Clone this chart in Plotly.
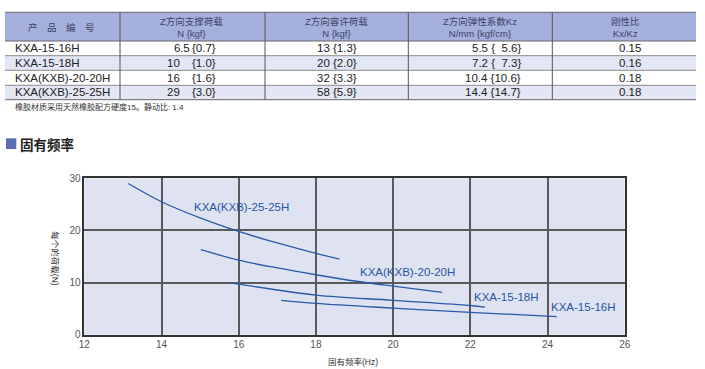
import plotly.graph_objects as go

# ---------------- data ----------------
products = ["KXA-15-16H", "KXA-15-18H", "KXA(KXB)-20-20H", "KXA(KXB)-25-25H"]
support_N = ["6.5", "10", "16", "29"]
support_kgf = ["0.7", "1.0", "1.6", "3.0"]
allow_N = ["13", "20", "32", "58"]
allow_kgf = ["1.3", "2.0", "3.3", "5.9"]
kz_N = ["5.5", "7.2", "10.4", "14.4"]
kz_kgf = ["5.6", "7.3", "10.6", "14.7"]
ratio = ["0.15", "0.16", "0.18", "0.18"]
headers = ["产　品　编　号", "Z方向支撑荷载<br>N {kgf}", "Z方向容许荷载<br>N {kgf}",
           "Z方向弹性系数Kz<br>N/mm {kgf/cm}", "刚性比<br>Kx/Kz"]
note = "橡胶材质采用天然橡胶配方硬度15。静动比: 1.4"
section_title = "固有频率"

# curves: natural frequency (Hz) vs load per unit (N)
f_25 = [13.14, 14.0, 15.0, 16.0, 17.0, 18.0, 18.61]
L_25 = [29.0, 25.5, 22.4, 19.8, 17.6, 15.6, 14.5]
f_20 = [15.02, 16.0, 17.0, 18.0, 19.0, 20.0, 21.27]
L_20 = [16.3, 14.3, 12.8, 11.5, 10.3, 9.3, 8.1]
f_18 = [15.82, 16.0, 18.0, 20.0, 22.0, 22.38]
L_18 = [9.9, 9.7, 7.6, 6.6, 5.6, 5.3]
f_16 = [17.1, 18.0, 20.0, 22.0, 24.24]
L_16 = [6.6, 6.0, 5.1, 4.3, 3.45]
curve_names = ["KXA(KXB)-25-25H", "KXA(KXB)-20-20H", "KXA-15-18H", "KXA-15-16H"]
label_pos = [(16.08, 24.45), (20.37, 12.0), (22.95, 7.3), (24.94, 5.37)]

x_ticks = [12, 14, 16, 18, 20, 22, 24, 26]
y_ticks = [0, 10, 20, 30]
x_title = "固有频率(Hz)"
y_title = "每个的荷载(N)"

# ---------------- layout helpers ----------------
W, H = 705, 369
def px(x):
    return x / W
def py(y):
    return 1 - y / H

FONT = "Liberation Sans, Arial, Noto Sans CJK SC, sans-serif"
CURVE = "#2a5aa8"
LABEL = "#1f55a5"

fig = go.Figure()
for xs, ys, nm in zip([f_25, f_20, f_18, f_16], [L_25, L_20, L_18, L_16], curve_names):
    fig.add_trace(go.Scatter(x=xs, y=ys, mode="lines", name=nm,
                             line=dict(color=CURVE, width=1.3, shape="spline", smoothing=1.0),
                             showlegend=False, hoverinfo="skip"))

annotations = []
shapes = []

def note_at(x, y, text, font, xanchor="center", yanchor="middle", **kw):
    annotations.append(dict(x=px(x), y=py(y), xref="paper", yref="paper", text=text,
                            showarrow=False, xanchor=xanchor, yanchor=yanchor, font=font,
                            borderpad=0, borderwidth=0, **kw))

for nm, (lx, ly) in zip(curve_names, label_pos):
    annotations.append(dict(x=lx, y=ly, xref="x", yref="y", text=nm, showarrow=False,
                            xanchor="center", yanchor="middle", borderpad=0, borderwidth=0,
                            font=dict(family=FONT, size=11.5, color=LABEL)))

# ---------------- table ----------------
tbl_left, tbl_right = 5, 696
col_edges = [tbl_left, 120, 265, 408.3, 552.3, tbl_right]
row_edges = [12.3, 41, 55.7, 70.3, 85.3, 99.7]

shapes.append(dict(type="rect", xref="paper", yref="paper", x0=px(tbl_left), x1=px(tbl_right),
                   y0=py(row_edges[1]), y1=py(row_edges[0]), fillcolor="#a6b0dc", line=dict(width=0),
                   layer="below"))
for i in range(4):
    fill = "#ffffff" if i % 2 == 0 else "#e3e6f4"
    shapes.append(dict(type="rect", xref="paper", yref="paper", x0=px(tbl_left), x1=px(tbl_right),
                       y0=py(row_edges[i + 2]), y1=py(row_edges[i + 1]), fillcolor=fill,
                       line=dict(width=0), layer="below"))
for j, ry in enumerate(row_edges):
    col = "#666" if j in (0, 1, 5) else "#8a8a8a"
    shapes.append(dict(type="line", xref="paper", yref="paper", x0=px(tbl_left), x1=px(tbl_right),
                       y0=py(ry), y1=py(ry), line=dict(color=col, width=1)))
for cx in col_edges[1:-1]:
    shapes.append(dict(type="line", xref="paper", yref="paper", x0=px(cx), x1=px(cx),
                       y0=py(row_edges[0]), y1=py(row_edges[-1]), line=dict(color="#555", width=1)))

hdr_centers = [61.7, 191.5, 336.7, 480, 625]
HDR = dict(family=FONT, size=9.5, color="#3a4466")
for hx, ht in zip(hdr_centers, headers):
    note_at(hx, 27.2, ht, HDR, align="center")

TXT = dict(family=FONT, size=11.5, color="#222")
for i in range(4):
    cy = (row_edges[i + 1] + row_edges[i + 2]) / 2
    note_at(15, cy, products[i], TXT, xanchor="left")
    ip, _, fp = support_N[i].partition(".")
    note_at(180, cy, ip, TXT, xanchor="right")
    if fp:
        note_at(180, cy, "." + fp, TXT, xanchor="left")
    note_at(192, cy, "{" + support_kgf[i] + "}", TXT, xanchor="left")
    note_at(336.7, cy, f"{allow_N[i]} {{{allow_kgf[i]}}}", TXT)
    pad = "\u2007" * (4 - len(kz_kgf[i]))
    note_at(521, cy, f"{kz_N[i]} {{{pad}{kz_kgf[i]}}}", TXT, xanchor="right")
    note_at(630, cy, ratio[i], TXT)

note_at(15, 107.5, note, dict(family=FONT, size=8, color="#333"), xanchor="left")

shapes.append(dict(type="rect", xref="paper", yref="paper", x0=px(6), x1=px(16.3),
                   y0=py(149), y1=py(138.3), fillcolor="#5b6db4", line=dict(width=0)))
note_at(20, 143.8, "<b>" + section_title + "</b>",
        dict(family="Noto Sans CJK SC, sans-serif", size=13.5, color="#222"), xanchor="left")

note_at(353, 361.5, x_title, dict(family=FONT, size=8.5, color="#333"))
note_at(55, 258.3, y_title, dict(family=FONT, size=8.5, color="#333"), textangle=90)

fig.update_layout(
    width=W, height=H,
    autosize=False,
    margin=dict(l=0, r=0, t=0, b=0, pad=0, autoexpand=False),
    paper_bgcolor="white",
    plot_bgcolor="#dfe3f1",
    showlegend=False,
    shapes=shapes,
    annotations=annotations,
    xaxis=dict(domain=[px(84.3), px(624.7)], range=[12, 26], tickvals=x_ticks, automargin=False,
               showgrid=True, gridcolor="#5a5a5a", gridwidth=1.6, zeroline=False,
               showline=True, linecolor="#333", linewidth=1.5, mirror=True,
               ticks="", tickfont=dict(family=FONT, size=10, color="#555")),
    yaxis=dict(domain=[py(334.7), py(178.3)], range=[0, 30], tickvals=y_ticks, automargin=False,
               showgrid=True, gridcolor="#5a5a5a", gridwidth=1.6, zeroline=False,
               showline=True, linecolor="#333", linewidth=1.5, mirror=True,
               ticks="", tickfont=dict(family=FONT, size=10, color="#555")),
)

fig.write_html("out.html", config={"displayModeBar": False, "responsive": False},
               post_script="document.body.style.margin='0';document.body.style.overflow='hidden';")
